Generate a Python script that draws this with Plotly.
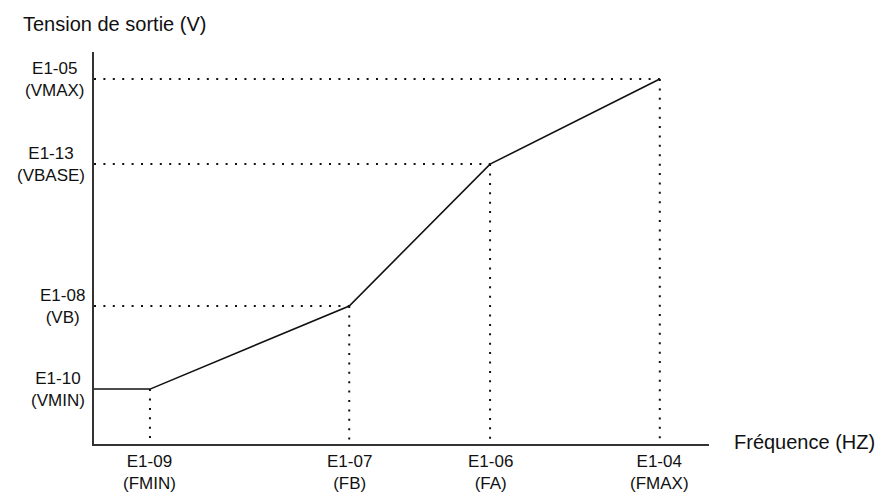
import plotly.graph_objects as go

# Breakpoints of the V/f curve (axis scaled 0-100 in both directions)
freq_names = ["E1-09<br>(FMIN)", "E1-07<br>(FB)", "E1-06<br>(FA)", "E1-04<br>(FMAX)"]
volt_names = ["E1-10<br>(VMIN)", "E1-08<br>(VB)", "E1-13<br>(VBASE)", "E1-05<br>(VMAX)"]
freq_values = [9.1, 41.5, 64.4, 92.0]
volt_values = [14.0, 35.2, 71.4, 93.1]

FONT = "Liberation Sans, Arial, sans-serif"
INK = "#111111"
DOT = "2px,7.4px"

W, H = 880, 494
ML, MR, MT, MB = 94, 171, 52, 50
plot_w = W - ML - MR
plot_h = H - MT - MB

fig = go.Figure()

# Dotted guide lines from each breakpoint to both axes
for i, (f, v) in enumerate(zip(freq_values, volt_values)):
    fig.add_trace(go.Scatter(
        x=[f, f], y=[v, 0], mode="lines",
        line=dict(color=INK, width=2, dash=DOT), hoverinfo="skip"))
    fig.add_trace(go.Scatter(
        x=[0, f], y=[v, v], mode="lines",
        line=dict(color=INK, width=2, dash=DOT) if i > 0 else dict(color=INK, width=1.5),
        hoverinfo="skip"))

# Output voltage curve
fig.add_trace(go.Scatter(
    x=freq_values, y=volt_values, mode="lines",
    line=dict(color=INK, width=1.6), hoverinfo="skip"))

annotations = []
for f, name in zip(freq_values, freq_names):
    annotations.append(dict(
        x=f, xref="x", y=0, yref="paper", text=name, showarrow=False,
        xanchor="center", yanchor="top", align="center", yshift=-6,
        font=dict(family=FONT, size=17, color=INK)))
for v, name in zip(volt_values, volt_names):
    annotations.append(dict(
        x=0, xref="paper", y=v, yref="y", text=name, showarrow=False,
        xanchor="right", yanchor="middle", align="center", xshift=-7,
        font=dict(family=FONT, size=17, color=INK)))

# Axis titles placed in paper coordinates relative to the plot area
annotations.append(dict(
    x=(21 - ML) / plot_w, xref="paper", y=(H - MB - 24) / plot_h, yref="paper",
    text="Tension de sortie (V)", showarrow=False, xanchor="left", yanchor="middle",
    font=dict(family=FONT, size=20, color=INK)))
annotations.append(dict(
    x=(732 - ML) / plot_w, xref="paper", y=(H - MB - 442) / plot_h, yref="paper",
    text="Fréquence (HZ)", showarrow=False, xanchor="left", yanchor="middle",
    font=dict(family=FONT, size=20, color=INK)))

fig.update_layout(
    width=W, height=H,
    margin=dict(l=ML, r=MR, t=MT, b=MB),
    paper_bgcolor="white", plot_bgcolor="white",
    showlegend=False,
    xaxis=dict(range=[0, 100], showgrid=False, zeroline=False, showticklabels=False,
               ticks="", showline=True, linecolor="#333333", linewidth=2, fixedrange=True),
    yaxis=dict(range=[0, 100], showgrid=False, zeroline=False, showticklabels=False,
               ticks="", showline=True, linecolor="#333333", linewidth=2, fixedrange=True),
    annotations=annotations,
)

fig.write_html("out.html")
